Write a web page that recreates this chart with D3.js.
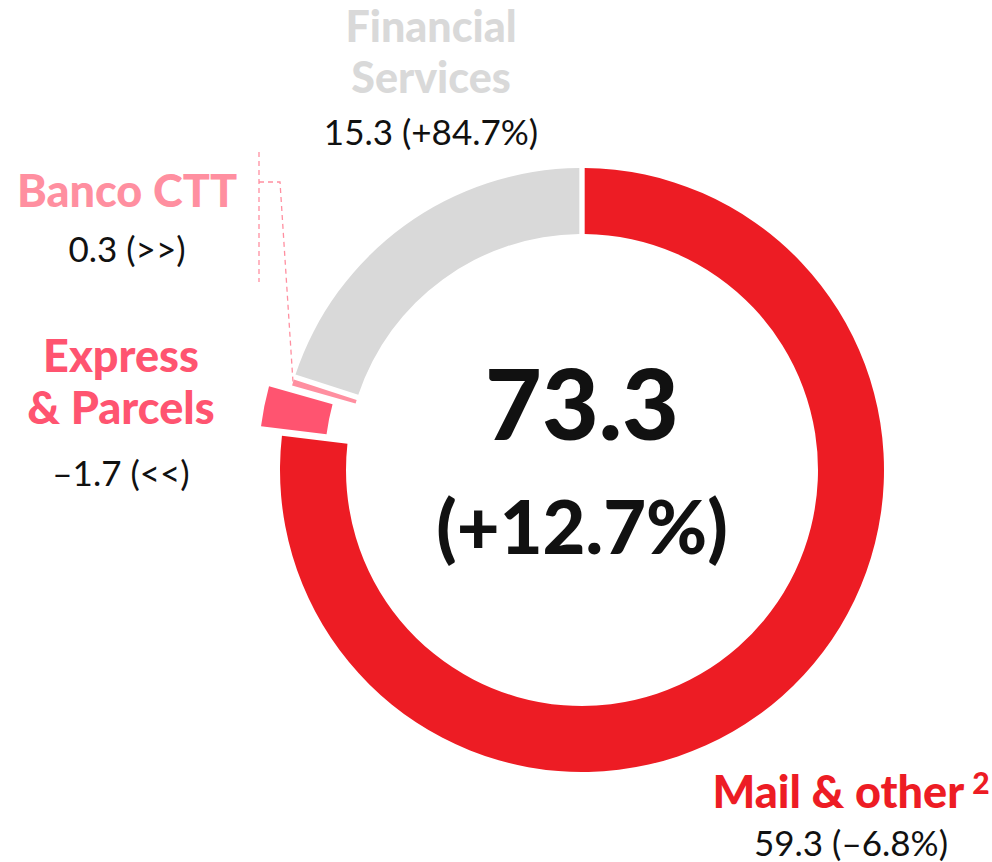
<!DOCTYPE html>
<html>
<head>
<meta charset="utf-8">
<script src="https://cdn.jsdelivr.net/npm/d3@7"></script>
<style>
  body { margin: 0; background: #fff; }
  text { font-family: Lato, "Open Sans", sans-serif; }
</style>
</head>
<body>
<div id="chart"></div>
<script>
// segment data, clockwise from 12 o'clock
const names = ["Mail & other", "Express & Parcels", "Banco CTT", "Financial Services"];
const values = [59.3, -1.7, 0.3, 15.3];
const changes = ["(–6.8%)", "(<<)", "(>>)", "(+84.7%)"];
const colors = ["#ed1c24", "#ff5470", "#ff8fa0", "#d9d9d9"];
const totalValue = "73.3";
const totalChange = "(+12.7%)";

const width = 992, height = 862;
const cx = 582, cy = 470;
const outerR = 302, innerR = 236;

const svg = d3.select("#chart")
    .append("svg")
    .attr("width", width)
    .attr("height", height);

const segs = values.map((v, i) => ({name: names[i], value: v, change: changes[i], color: colors[i]}));

const pie = d3.pie()
    .sort(null)
    .value((d) => Math.abs(d.value))
    .padAngle(0.014);

const arc = d3.arc()
    .innerRadius(innerR)
    .outerRadius(outerR);

const arcs = pie(segs);

const g = svg.append("g")
    .attr("transform", "translate(" + cx + "," + cy + ")");

// negative segment is pulled out of the ring
g.selectAll("path.slice")
    .data(arcs)
    .enter()
    .append("path")
    .attr("class", "slice")
    .attr("d", arc)
    .attr("fill", (d) => d.data.color)
    .attr("transform", function(d) {
      if (d.data.value >= 0) return null;
      const a = (d.startAngle + d.endAngle) / 2;
      const off = 22;
      return "translate(" + (off * Math.sin(a)) + "," + (-off * Math.cos(a)) + ")";
    });

// leader line for Banco CTT
const banco = arcs[2];
const ba = banco.startAngle + 0.02;
const endX = cx + outerR * Math.sin(ba);
const endY = cy - outerR * Math.cos(ba);
svg.append("path")
    .attr("d", "M259,152 L259,282 M259,182 L280,182 L" + endX + "," + endY)
    .attr("fill", "none")
    .attr("stroke", "#ff8fa0")
    .attr("stroke-width", 1.3)
    .attr("stroke-dasharray", "5,4");

// centre total
svg.append("text")
    .attr("x", cx)
    .attr("y", 440)
    .attr("text-anchor", "middle")
    .attr("font-size", 98)
    .attr("font-weight", 900)
    .attr("fill", "#111")
    .text(totalValue);
svg.append("text")
    .attr("x", cx)
    .attr("y", 554)
    .attr("text-anchor", "middle")
    .attr("font-size", 74)
    .attr("font-weight", 900)
    .attr("fill", "#111")
    .text(totalChange);

// labels (multi-line names go in one text element)
const labels = [
  {lines: ["Mail & other"], sup: "2", x: 851, y: 808, vy: 856, size: 45, lh: 51},
  {lines: ["Express", "& Parcels"], x: 121, y: 372, vy: 486, size: 45, lh: 52},
  {lines: ["Banco CTT"], x: 127, y: 207, vy: 262, size: 45, lh: 51},
  {lines: ["Financial", "Services"], x: 431, y: 42, vy: 145, size: 43, lh: 51}
];

labels.forEach(function(l, i) {
  const s = segs[i];
  const t = svg.append("text")
      .attr("y", l.y)
      .attr("text-anchor", "middle")
      .attr("font-size", l.size)
      .attr("font-weight", 900)
      .attr("fill", s.color);
  l.lines.forEach(function(line, j) {
    t.append("tspan")
        .attr("x", l.x)
        .attr("dy", j === 0 ? 0 : l.lh)
        .text(line);
  });
  if (l.sup) {
    t.append("tspan")
        .attr("font-size", 30)
        .attr("dx", 8)
        .attr("dy", -14)
        .text(l.sup);
  }
  const num = s.value < 0 ? "–" + Math.abs(s.value).toFixed(1) : s.value.toFixed(1);
  svg.append("text")
      .attr("x", l.x)
      .attr("y", l.vy)
      .attr("text-anchor", "middle")
      .attr("font-size", 35)
      .attr("fill", "#111")
      .text(num + " " + s.change);
});
</script>
</body>
</html>
